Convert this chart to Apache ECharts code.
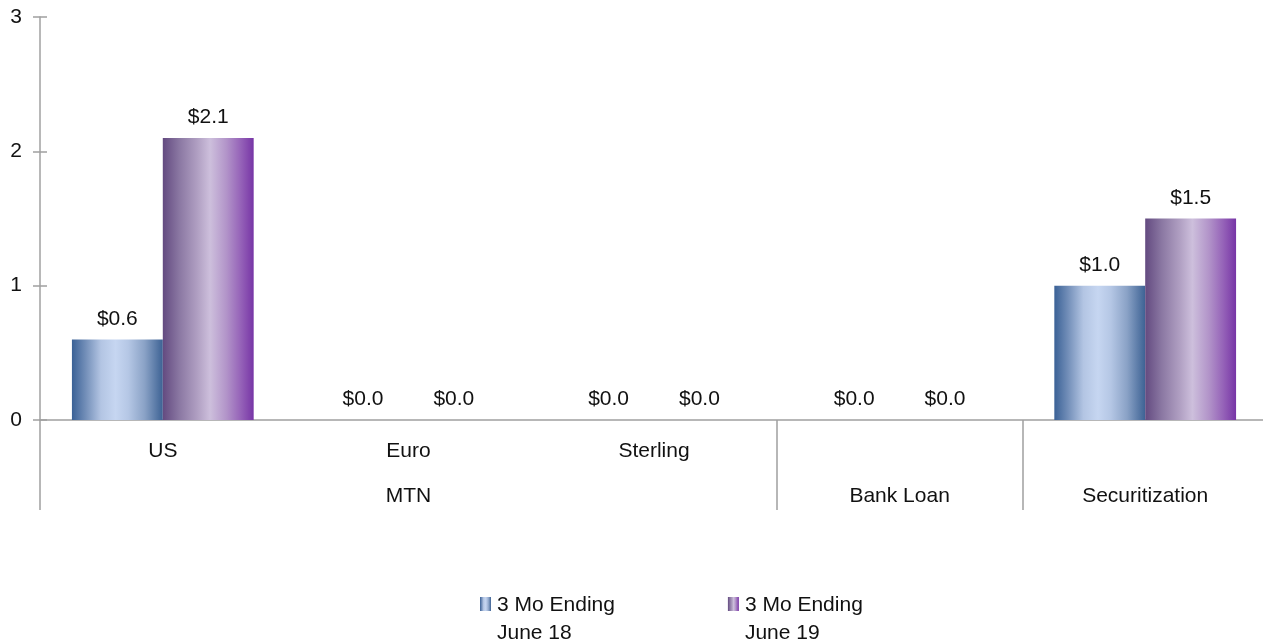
<!doctype html>
<html>
<head>
<meta charset="utf-8">
<title>MTN / Bank Loan / Securitization</title>
<script src="https://cdn.jsdelivr.net/npm/echarts@6/dist/echarts.min.js"></script>
<style>
  html, body { margin: 0; padding: 0; background: #fff; overflow: hidden; }
  /* plot runs a few pixels past the right edge of the window, like the original */
  #chart { width: 1268px; height: 643px; }
</style>
</head>
<body>
<div id="chart"></div>
<script>
// data
var categories = ['US', 'Euro', 'Sterling', 'Bank Loan', 'Securitization'];
var groups = ['MTN', 'MTN', 'MTN', 'Bank Loan', 'Securitization'];
var june18 = [0.6, 0, 0, 0, 1.0];
var june19 = [2.1, 0, 0, 0, 1.5];
var seriesNames = ['3 Mo Ending\nJune 18', '3 Mo Ending\nJune 19'];
var yTicks = [0, 1, 2, 3];

var FONT = "'Liberation Sans', Arial, sans-serif";
var FS = 21;
var AXIS = '#a0a0a0';

// first row: sub category, only where the group has more than one member
var subLabels = categories.map(function (c, idx) {
  var n = groups.filter(function (g) { return g === groups[idx]; }).length;
  return n > 1 ? c : '';
});
// second row: group label under the middle category of its span
var groupLabels = categories.map(function () { return ''; });
var i = 0;
while (i < groups.length) {
  var j = i;
  while (j + 1 < groups.length && groups[j + 1] === groups[i]) j++;
  groupLabels[Math.floor((i + j) / 2)] = groups[i];
  i = j + 1;
}
// separator before each category that starts a new group
function isGroupStart(idx) {
  if (idx >= groups.length) return false;
  return idx === 0 || groups[idx] !== groups[idx - 1];
}

var blueGrad = new echarts.graphic.LinearGradient(0, 0, 1, 0, [
  { offset: 0, color: '#3a6196' },
  { offset: 0.15, color: '#728eb8' },
  { offset: 0.32, color: '#b3c5e3' },
  { offset: 0.48, color: '#c6d6f1' },
  { offset: 0.62, color: '#b5c7e5' },
  { offset: 0.8, color: '#8aa2c6' },
  { offset: 1, color: '#3d6294' }
]);
var purpleGrad = new echarts.graphic.LinearGradient(0, 0, 1, 0, [
  { offset: 0, color: '#634a80' },
  { offset: 0.18, color: '#8a77a2' },
  { offset: 0.38, color: '#b09fc2' },
  { offset: 0.52, color: '#cdbfdc' },
  { offset: 0.7, color: '#b294c9' },
  { offset: 0.86, color: '#9562b8' },
  { offset: 1, color: '#7735a6' }
]);

// icon sits at the top of a two-line legend item
var legendIcon = 'path://M0,0h11v14h-11z M10.99,43.99h0.01v0.01h-0.01z';

function valueLabel(p) { return '$' + p.value.toFixed(1); }

var myChart = echarts.init(document.getElementById('chart'));
myChart.setOption({
  animation: false,
  textStyle: { fontFamily: FONT },
  grid: { left: 40, top: 17, right: 0, height: 403, containLabel: false },
  legend: {
    left: 480,
    top: 591,
    padding: 0,
    itemGap: 113,
    itemWidth: 11,
    itemHeight: 44,
    icon: legendIcon,
    data: seriesNames,
    textStyle: { fontFamily: FONT, fontSize: FS, color: '#111', lineHeight: 28, padding: [0, 0, 0, 1] }
  },
  xAxis: [
    {
      type: 'category',
      data: subLabels,
      position: 'bottom',
      axisLine: { show: true, lineStyle: { color: AXIS, width: 1.5 } },
      axisTick: {
        show: true,
        length: 90,
        interval: function (idx) { return isGroupStart(idx); },
        lineStyle: { color: AXIS, width: 1.5 }
      },
      axisLabel: { fontFamily: FONT, fontSize: FS, color: '#111', margin: 21, interval: 0 }
    },
    {
      type: 'category',
      data: groupLabels,
      position: 'bottom',
      offset: 45,
      axisLine: { show: false },
      axisTick: { show: false },
      axisLabel: { fontFamily: FONT, fontSize: FS, color: '#111', margin: 21, interval: 0 }
    }
  ],
  yAxis: [
    {
      type: 'value',
      min: yTicks[0],
      max: yTicks[yTicks.length - 1],
      interval: 1,
      axisLine: { show: true, lineStyle: { color: AXIS, width: 1.5 } },
      axisTick: { show: true, length: 7, lineStyle: { color: AXIS, width: 1.5 } },
      axisLabel: { fontFamily: FONT, fontSize: FS, color: '#111', margin: 18 },
      splitLine: { show: false }
    },
    {
      type: 'value',
      position: 'left',
      min: yTicks[0],
      max: yTicks[yTicks.length - 1],
      interval: 1,
      axisLine: { show: false },
      axisTick: { show: true, inside: true, length: 7, lineStyle: { color: AXIS, width: 1.5 } },
      axisLabel: { show: false },
      splitLine: { show: false }
    }
  ],
  series: [
    {
      name: seriesNames[0],
      type: 'bar',
      data: june18,
      barGap: '0%',
      barCategoryGap: '26%',
      itemStyle: { color: blueGrad },
      label: {
        show: true, position: 'top', distance: 10,
        fontFamily: FONT, fontSize: FS, color: '#111',
        formatter: valueLabel
      }
    },
    {
      name: seriesNames[1],
      type: 'bar',
      data: june19,
      barGap: '0%',
      barCategoryGap: '26%',
      itemStyle: { color: purpleGrad },
      label: {
        show: true, position: 'top', distance: 10,
        fontFamily: FONT, fontSize: FS, color: '#111',
        formatter: valueLabel
      }
    }
  ]
});
</script>
</body>
</html>
